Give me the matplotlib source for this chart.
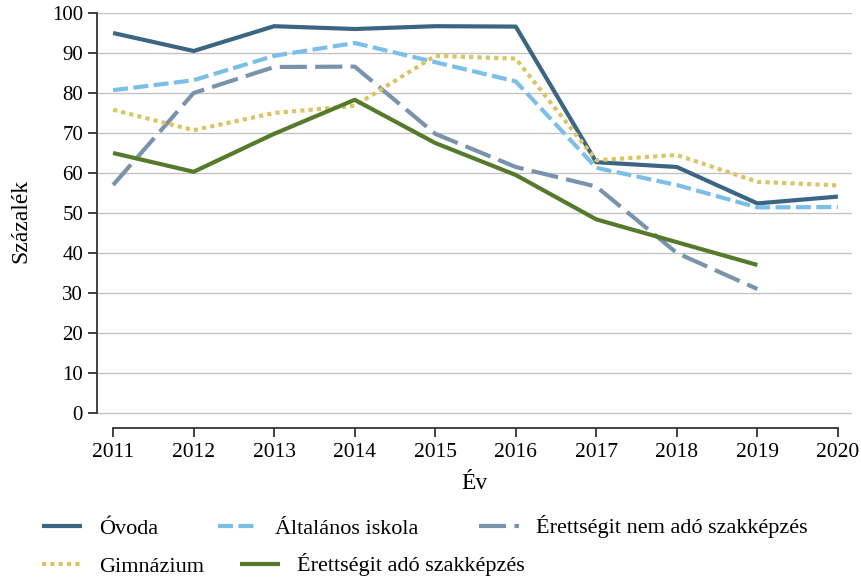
import numpy as np
import matplotlib; matplotlib.use("Agg")
import matplotlib.pyplot as plt

plt.rcParams["font.family"] = ["Liberation Serif", "DejaVu Serif"]

years = list(range(2011, 2021))
ovoda = [95.0, 90.5, 96.7, 96.0, 96.7, 96.6, 62.7, 61.5, 52.4, 54.1]
altalanos = [80.7, 83.2, 89.3, 92.5, 87.7, 82.9, 61.3, 57.0, 51.4, 51.5]
nem_ado = [57.0, 80.0, 86.5, 86.6, 69.8, 61.5, 56.6, 40.0, 31.0]
gimnazium = [75.8, 70.7, 75.0, 76.8, 89.3, 88.6, 63.2, 64.5, 57.8, 56.9]
ado = [65.0, 60.3, 69.8, 78.3, 67.5, 59.5, 48.4, 42.7, 37.0]

c_ov, c_alt, c_nem, c_gim, c_ado = "#3c6582", "#7bbfe9", "#7a93ad", "#dcc363", "#557a2b"

fig = plt.figure(figsize=(8.61, 5.82), dpi=100)
ax = fig.add_axes([97 / 861, 1 - 428 / 582, (852 - 97) / 861, (428 - 13) / 582])

lw = 3.0
ax.plot(years, ovoda, color=c_ov, lw=lw, label="Óvoda", solid_capstyle="butt")
ax.plot(years, altalanos, color=c_alt, lw=lw, dashes=(3.6, 1.3), label="Általános iskola")
ax.plot(years[:9], nem_ado, color=c_nem, lw=lw, dashes=(6.5, 2.0), label="Érettségit nem adó szakképzés")
ax.plot(years, gimnazium, color=c_gim, lw=lw, dashes=(1, 1), label="Gimnázium")
ax.plot(years[:9], ado, color=c_ado, lw=lw, label="Érettségit adó szakképzés", solid_capstyle="butt")

ax.set_xlim(2010.8, 2020.175)
ax.set_ylim(-3.75, 100)
ax.set_yticks(range(0, 101, 10))
ax.set_xticks(years)
ax.grid(axis="y", color="#c4c4c4", lw=1)
ax.set_axisbelow(True)
for s in ["top", "right"]:
    ax.spines[s].set_visible(False)
ax.spines["left"].set_bounds(0, 100)
ax.spines["bottom"].set_bounds(2011, 2020)
for s in ["left", "bottom"]:
    ax.spines[s].set_color("#333333")
    ax.spines[s].set_linewidth(1.3)
ax.tick_params(axis="y", length=6.5, width=1.3, color="#333333", labelsize=15, pad=3.5)
ax.tick_params(axis="x", length=6.5, width=1.3, color="#333333", labelsize=15.5, pad=4)
ax.set_ylabel("Százalék", fontsize=17, labelpad=15)
ax.set_xlabel("Év", fontsize=17, labelpad=8)

h = ax.get_lines()
kw = dict(frameon=False, fontsize=16, handlelength=1.8, handletextpad=0.77, borderpad=0, borderaxespad=0)
fig.legend(handles=[h[0], h[1], h[2]], loc="center left", bbox_to_anchor=(42 / 861, 1 - 527 / 582),
           ncol=3, columnspacing=2.7, **kw)
fig.legend(handles=[h[3], h[4]], loc="center left", bbox_to_anchor=(42 / 861, 1 - 565 / 582),
           ncol=2, columnspacing=1.6, **kw)

plt.savefig("out.png", dpi=100)
